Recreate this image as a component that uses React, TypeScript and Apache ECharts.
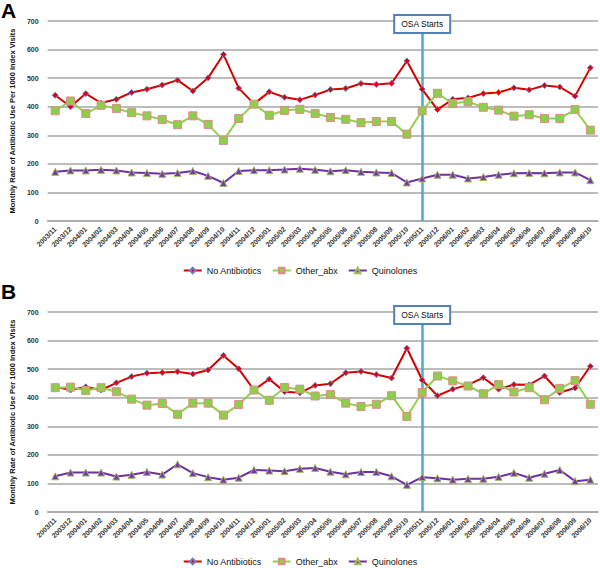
import React, { useEffect, useRef } from "react";
import * as echarts from "echarts";

const categories = [
  "2003/11", "2003/12",
  "2004/01", "2004/02", "2004/03", "2004/04", "2004/05", "2004/06", "2004/07", "2004/08", "2004/09", "2004/10", "2004/11", "2004/12",
  "2005/01", "2005/02", "2005/03", "2005/04", "2005/05", "2005/06", "2005/07", "2005/08", "2005/09", "2005/10", "2005/11", "2005/12",
  "2006/01", "2006/02", "2006/03", "2006/04", "2006/05", "2006/06", "2006/07", "2006/08", "2006/09", "2006/10",
];

const noAbxA = [440, 400, 446, 413, 426, 450, 461, 476, 493, 455, 501, 583, 465, 410,
  452, 433, 424, 441, 460, 464, 481, 478, 482, 560, 461, 390,
  426, 431, 446, 450, 466, 459, 474, 469, 437, 536];
const otherA = [386, 420, 376, 405, 394, 379, 368, 355, 337, 368, 338, 282, 359, 409,
  370, 387, 391, 376, 362, 356, 344, 348, 348, 304, 386, 447,
  411, 418, 398, 388, 367, 372, 359, 359, 390, 318];
const quinA = [172, 177, 177, 179, 177, 170, 168, 165, 168, 175, 158, 133, 175, 178,
  178, 180, 183, 179, 174, 178, 172, 170, 168, 135, 149, 162,
  162, 149, 154, 162, 167, 168, 167, 170, 170, 143];

const noAbxB = [438, 427, 438, 427, 452, 474, 486, 488, 491, 483, 497, 548, 501, 427,
  465, 421, 417, 443, 449, 487, 492, 481, 469, 573, 462, 407,
  430, 445, 470, 430, 446, 445, 476, 418, 434, 510];
const otherB = [435, 437, 425, 435, 421, 395, 374, 380, 342, 381, 381, 339, 376, 427,
  391, 436, 430, 406, 411, 381, 369, 377, 407, 334, 418, 476,
  459, 441, 414, 446, 420, 435, 393, 432, 460, 377];
const quinB = [125, 138, 138, 138, 124, 130, 140, 131, 167, 136, 122, 113, 120, 147,
  145, 143, 151, 154, 141, 132, 140, 140, 125, 95, 122, 118,
  113, 116, 116, 123, 137, 120, 134, 147, 108, 113];

const seriesNames = ["No Antibiotics", "Other_abx", "Quinolones"];
const panelLabels = ["A", "B"];
const osaCategory = "2005/11";
const osaText = "OSA Starts";
const yAxisTitle = "Monthly Rate of Antibiotic Use Per 1000 Index Visits";

const FONT = "'Liberation Sans', Arial, sans-serif";

export default function App() {
  const ref = useRef<HTMLDivElement>(null);
  useEffect(() => {
    if (!ref.current) return;
    const chart = echarts.init(ref.current, undefined, { renderer: "svg" });

    const grids = [
      { left: 38, right: 2, top: 21, height: 200 },
      { left: 38, right: 2, top: 312, height: 200 },
    ];

    const xAxes = grids.map((_, i) => ({
      type: "category",
      gridIndex: i,
      data: categories,
      boundaryGap: true,
      axisLine: { lineStyle: { color: "#a6a6a6", width: 1.5 } },
      axisTick: { show: false },
      axisLabel: {
        rotate: 45,
        interval: 0,
        fontSize: 7,
        fontWeight: "bold",
        color: "#333",
        fontFamily: FONT,
        margin: 7,
      },
    }));

    const yAxes = grids.map((_, i) => ({
      type: "value",
      gridIndex: i,
      min: 0,
      max: 700,
      interval: 100,
      name: yAxisTitle,
      nameLocation: "middle",
      nameGap: 28,
      nameRotate: 90,
      nameTextStyle: { fontSize: 7.5, fontWeight: "bold", color: "#111", fontFamily: FONT },
      axisLine: { show: false },
      axisTick: { show: false },
      axisLabel: { fontSize: 7, fontWeight: "bold", color: "#333", margin: 9, fontFamily: FONT },
      splitLine: { lineStyle: { color: "#a6a6a6", width: 1.5 } },
    }));

    const styles = [
      { color: "#d40000", symbol: "diamond", symbolSize: 6, itemColor: "#e00000", border: "#6b7fd0" },
      { color: "#92d050", symbol: "rect", symbolSize: 8, itemColor: "#8fce4a", border: "#e08a8a" },
      { color: "#7030a0", symbol: "triangle", symbolSize: 7, itemColor: "#7a35b0", border: "#9bbb59" },
    ];

    const panelData = [
      [noAbxA, otherA, quinA],
      [noAbxB, otherB, quinB],
    ];

    const series: any[] = [];
    panelData.forEach((sets, p) => {
      sets.forEach((vals, s) => {
        const st = styles[s];
        series.push({
          type: "line",
          name: seriesNames[s],
          xAxisIndex: p,
          yAxisIndex: p,
          data: vals,
          symbol: st.symbol,
          symbolSize: st.symbolSize,
          lineStyle: { color: st.color, width: 2 },
          itemStyle: { color: st.itemColor, borderColor: st.border, borderWidth: 1 },
          z: 3,
          markLine: s === 0 ? {
            silent: true,
            symbol: "none",
            label: { show: false },
            lineStyle: { color: "#4bacc6", width: 2.5, type: "solid" },
            data: [{ xAxis: osaCategory }],
            z: 2,
          } : undefined,
        });
      });
    });

    const legends = [261, 552].map((top) => ({
      top,
      left: "center",
      itemWidth: 18,
      itemHeight: 7,
      itemGap: 10,
      data: seriesNames,
      textStyle: { fontSize: 9, color: "#111", fontFamily: FONT },
    }));

    chart.setOption({
      animation: false,
      backgroundColor: "#fff",
      grid: grids,
      xAxis: xAxes,
      yAxis: yAxes,
      legend: legends,
      series,
    });

    const graphics: any[] = [];
    panelLabels.forEach((lab, p) => {
      graphics.push({
        type: "text",
        left: 1,
        top: p === 0 ? 0 : 281,
        style: { text: lab, fontSize: 21, fontWeight: "bold", fill: "#000", fontFamily: FONT },
      });
      const px = chart.convertToPixel({ xAxisIndex: p, yAxisIndex: p } as any, [osaCategory, 700]) as number[];
      const bw = 56;
      const bh = 18;
      const boxTop = px[1] - 6;
      graphics.push({
        type: "rect",
        shape: { x: px[0] - bw / 2, y: boxTop, width: bw, height: bh },
        style: { fill: "#fff", stroke: "#4f81bd", lineWidth: 2 },
        z: 10,
      });
      graphics.push({
        type: "text",
        x: px[0],
        y: boxTop + bh / 2,
        style: { text: osaText, fontSize: 8.5, fill: "#111", align: "center", verticalAlign: "middle", fontFamily: FONT },
        z: 11,
      });
    });
    chart.setOption({ graphic: graphics });

    return () => chart.dispose();
  }, []);
  return <div ref={ref} style={{ position: "fixed", left: 0, top: 0, width: 600, height: 568 }} />;
}
